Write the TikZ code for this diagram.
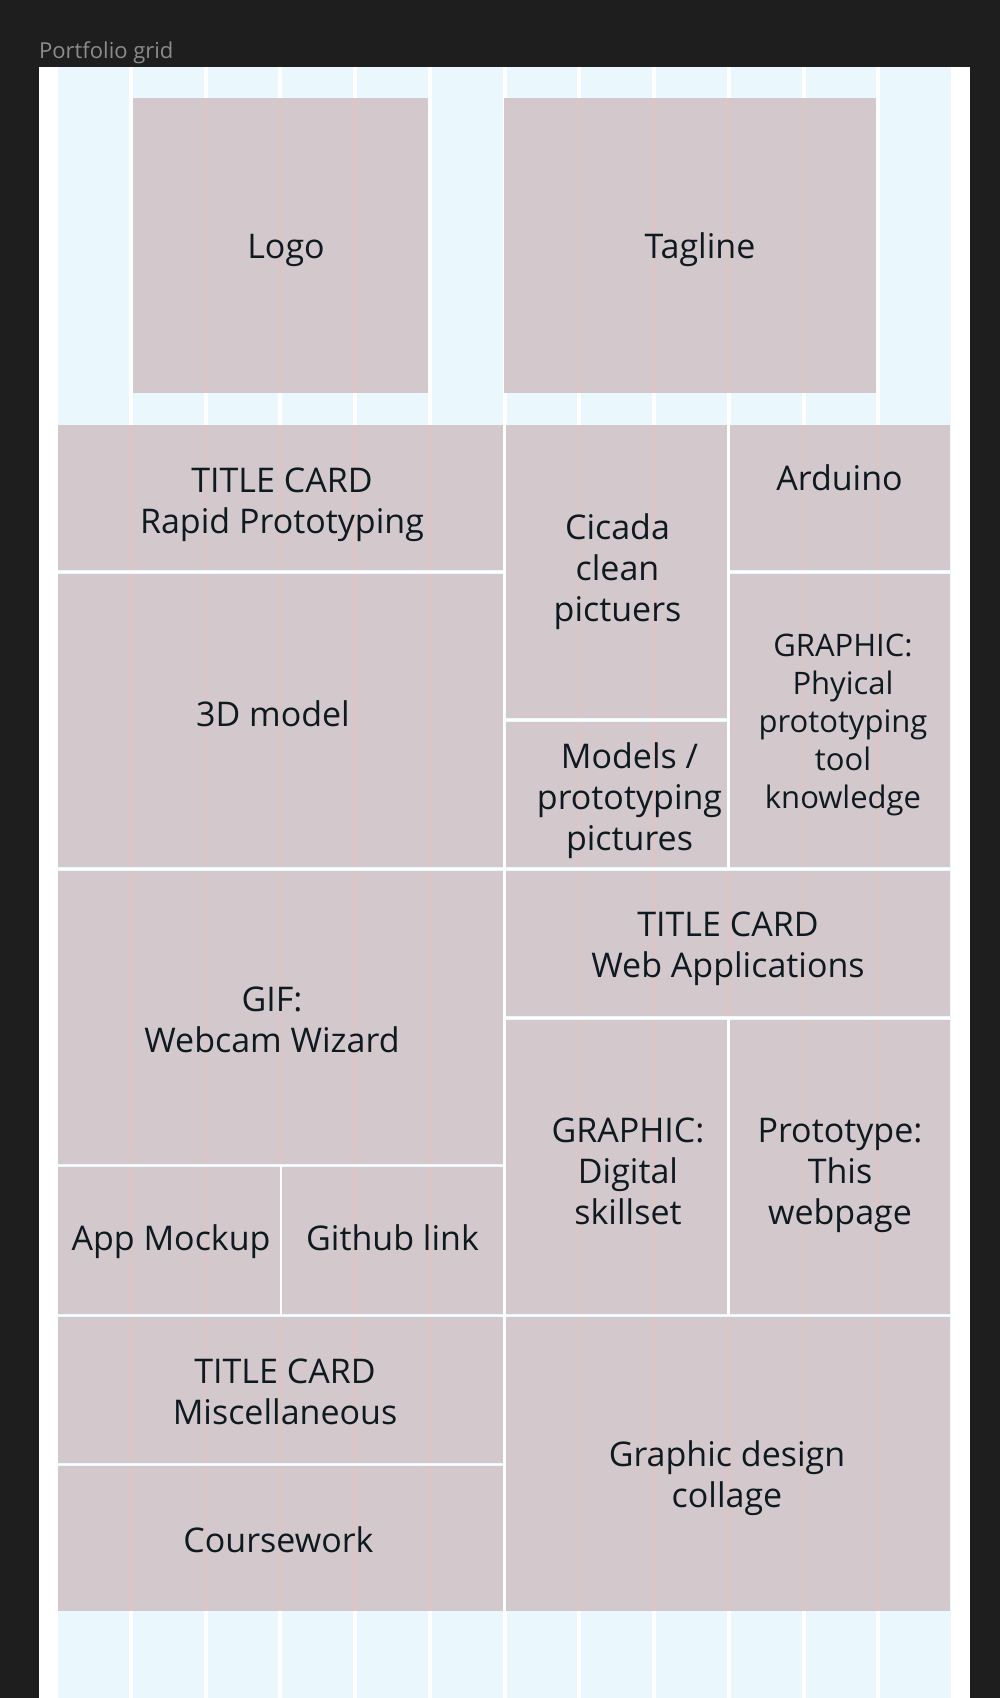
\documentclass[tikz,border=0pt]{standalone}
\usepackage{fontspec}
\setmainfont{Open Sans}
\definecolor{canvas}{HTML}{1E1E1E}
\definecolor{titlegrey}{HTML}{8C8C8C}
\definecolor{colblue}{HTML}{EAF7FD}
\definecolor{boxfill}{HTML}{D3C9CD}
\definecolor{gutpink}{HTML}{DBC5C7}
\definecolor{ink}{HTML}{0E1A20}

% a grid cell: name, left, top, right, bottom (pixel units, y downwards)
\newcommand\cellbox[5]{%
  \node[cell, minimum width={(#4-#2)*1pt}, minimum height={(#5-#3)*1pt}] (#1) at (#2,#3) {};}

\begin{document}
\begin{tikzpicture}[x=1pt,y=-1pt,
  cell/.style={fill=boxfill, draw=none, inner sep=0pt, outer sep=0pt, anchor=north west},
  txt/.style={text=ink, align=center, inner sep=0pt, outer sep=0pt,
              font=\fontsize{34}{41}\selectfont},
  smalltxt/.style={txt, font=\fontsize{31}{38}\selectfont},
  gutter/.style={draw=gutpink, line width=3.5pt},
  vseam/.style={draw=white, line width=3pt},
  hseam/.style={draw=colblue, line width=1pt, double=white, double distance=1.6pt}]

\useasboundingbox (0,0) rectangle (1000,1698);
\fill[canvas] (0,0) rectangle (1000,1698);

\node[anchor=base west, inner sep=0pt, text=titlegrey,
      font=\fontsize{22}{26}\selectfont] (title) at (39,58) {Portfolio grid};

% frame and its twelve layout columns
\fill[white] (39,67) rectangle (970,1698);
\foreach \i in {0,...,11}
  \fill[colblue] ({58+\i*74.75},67) rectangle ({58+\i*74.75+70.75},1698);

% header cells
\cellbox{logo}{133}{98}{427.75}{393}
\cellbox{tagline}{504}{98}{876.25}{393}

% left half
\cellbox{rp}{58}{425}{504.5}{572}
\cellbox{model}{58}{572}{504.5}{869}
\cellbox{gif}{58}{869}{504.5}{1165.5}
\cellbox{app}{58}{1165.5}{281}{1315.5}
\cellbox{git}{281}{1165.5}{504.5}{1315.5}
\cellbox{misc}{58}{1315.5}{504.5}{1464.5}
\cellbox{course}{58}{1464.5}{504.5}{1611}

% right half
\cellbox{cicada}{504.5}{425}{728.75}{720}
\cellbox{models}{504.5}{720}{728.75}{869}
\cellbox{arduino}{728.75}{425}{950}{572}
\cellbox{phys}{728.75}{572}{950}{869}
\cellbox{web}{504.5}{869}{950}{1018}
\cellbox{digital}{504.5}{1018}{728.75}{1315.5}
\cellbox{proto}{728.75}{1018}{950}{1315.5}
\cellbox{collage}{504.5}{1315.5}{950}{1611}

% column gutters seen through the cells
\foreach \g in {205.5,280.25,355}
  \draw[gutter] (\g,98) -- (\g,393);
\foreach \g in {579.25,654,728.75,803.5}
  \draw[gutter] (\g,98) -- (\g,393);
\foreach \g in {130.75,205.5,280.25,355,429.75,579.25,654,728.75,803.5,878.25}
  \draw[gutter] (\g,425) -- (\g,1611);

% seams between neighbouring cells
\draw[hseam] (rp.south west) -- (rp.south east);
\draw[hseam] (model.south west) -- (model.south east);
\draw[hseam] (gif.south west) -- (gif.south east);
\draw[hseam] (app.south west) -- (git.south east);
\draw[hseam] (misc.south west) -- (misc.south east);
\draw[hseam] (cicada.south west) -- (cicada.south east);
\draw[hseam] (arduino.south west) -- (arduino.south east);
\draw[hseam] (models.south west) -- (phys.south east);
\draw[hseam] (web.south west) -- (web.south east);
\draw[hseam] (digital.south west) -- (proto.south east);
\draw[vseam] (rp.north east) -- (course.south east);
\draw[vseam] (cicada.north east) -- (models.south east);
\draw[vseam] (digital.north east) -- (digital.south east);
\draw[vseam, line width=1.8pt] (app.north east) -- (app.south east);

% cell labels
\node[txt] (logoT) at (286,258) {\smash{Logo}};
\node[txt] (tagT) at (700,258) {\smash{Tagline}};
\node[txt] (rpT) at (282,513) {\smash{TITLE CARD}\\\smash{Rapid Prototyping}};
\node[txt] (modelT) at (273,726.5) {\smash{3D model}};
\node[txt] (cicadaT) at (617.5,580) {\smash{Cicada}\\\smash{clean}\\\smash{pictuers}};
\node[txt] (arduinoT) at (839.5,490) {\smash{Arduino}};
\node[smalltxt] (physT) at (843,732) {\smash{GRAPHIC:}\\\smash{Phyical}\\\smash{prototyping}\\\smash{tool}\\\smash{knowledge}};
\node[txt] (modelsT) at (629.5,809) {\smash{Models /}\\\smash{prototyping}\\\smash{pictures}};
\node[txt] (webT) at (728,957) {\smash{TITLE CARD}\\\smash{Web Applications}};
\node[txt] (gifT) at (272,1032) {\smash{GIF:}\\\smash{Webcam Wizard}};
\node[txt] (appT) at (171,1250) {\smash{App Mockup}};
\node[txt] (gitT) at (392.5,1250) {\smash{Github link}};
\node[txt] (digitalT) at (628,1183.5) {\smash{GRAPHIC:}\\\smash{Digital}\\\smash{skillset}};
\node[txt] (protoT) at (840,1183.5) {\smash{Prototype:}\\\smash{This}\\\smash{webpage}};
\node[txt] (miscT) at (285,1404) {\smash{TITLE CARD}\\\smash{Miscellaneous}};
\node[txt] (courseT) at (278.5,1552) {\smash{Coursework}};
\node[txt] (collageT) at (727,1487) {\smash{Graphic design}\\\smash{collage}};
\end{tikzpicture}
\end{document}
